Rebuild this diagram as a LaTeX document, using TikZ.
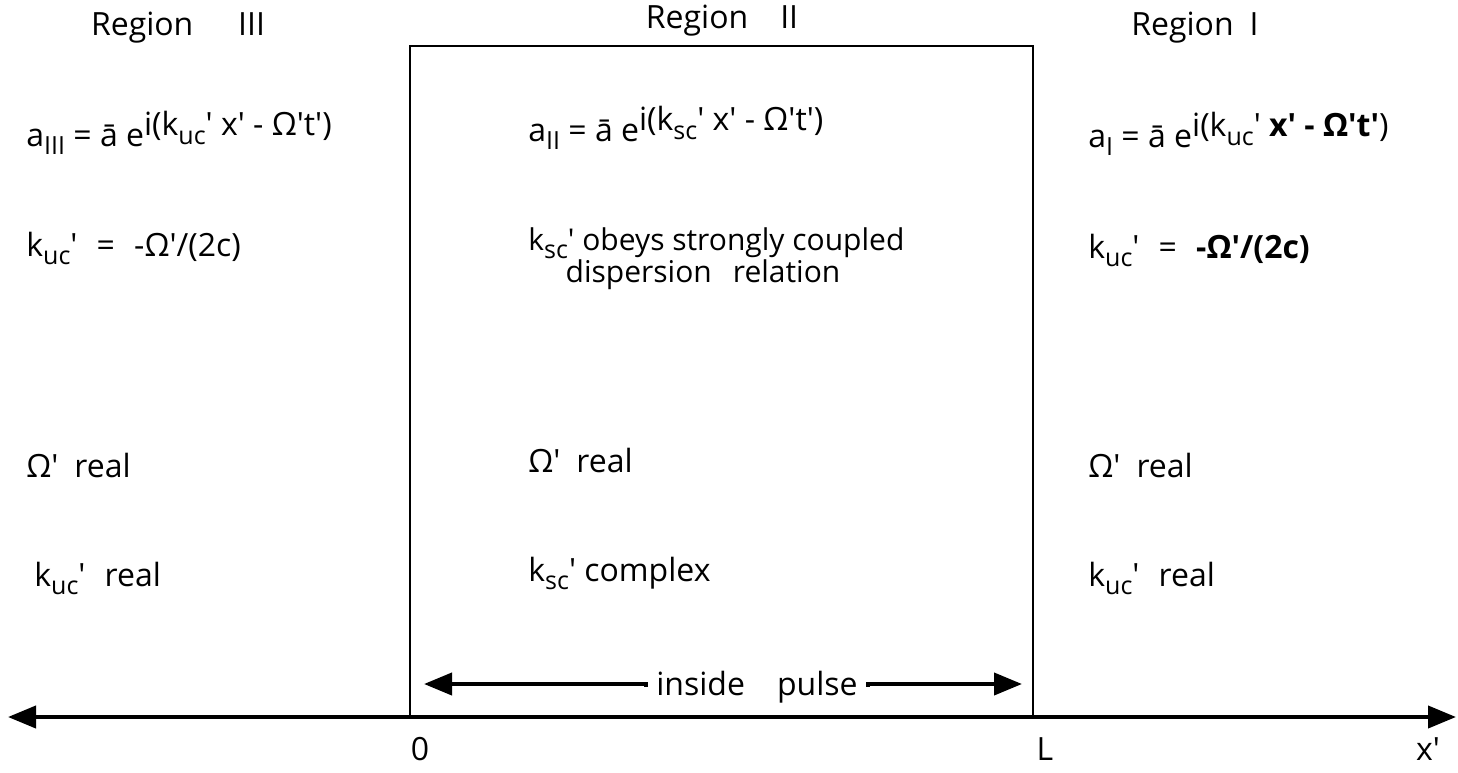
\documentclass[tikz,border=0pt]{standalone}
\usepackage{fontspec}
\setmainfont{Open Sans}
\usetikzlibrary{arrows.meta}
\newcommand{\sbs}[1]{\raisebox{-0.5ex}{\fontsize{12.5}{14}\selectfont #1}}
\newcommand{\pr}{\textquotesingle}
\newcommand{\ex}[1]{\raisebox{0.6ex}{#1}}
\tikzset{
  lbl/.style={font=\fontsize{16}{19}\selectfont, inner sep=0pt, anchor=base west},
  ctr/.style={font=\fontsize{16}{19}\selectfont, inner sep=0pt, anchor=base},
  axisline/.style={line width=2pt, {Triangle[length=14pt,width=11pt]}-{Triangle[length=14pt,width=11pt]}},
  pulsearrow/.style={line width=2pt, -{Triangle[length=14pt,width=11pt]}},
  boxline/.style={line width=1pt}
}
\begin{document}
\begin{tikzpicture}[x=0.5pt,y=-0.5pt]
\useasboundingbox (0,0) rectangle (1458,772);
% axis and box
\coordinate (axL) at (8,717);
\coordinate (axR) at (1456,717);
\coordinate (b0) at (410,717);
\coordinate (bL) at (1033,717);
\coordinate (t0) at (410,46);
\coordinate (tL) at (1033,46);
\draw[axisline] (axL) -- (axR);
\draw[boxline] (b0) -- (t0) -- (tL) -- (bL);
\draw[line width=1.4pt] (t0) -- (tL);
% region headings
\node[ctr] (r3) at (178,35) {Region\hspace{1.4em}III};
\node[ctr] (r2) at (722,28) {Region\quad II};
\node[ctr] (r1) at (1195,35) {Region\hspace{0.5em}I};
% equations
\node[lbl] (e3) at (26,146) {a\sbs{III} = \=a e\ex{i(k\sbs{uc}\pr{} x\pr{} - Ω\pr t\pr)}};
\node[lbl] (e2) at (528,141) {a\sbs{II} = \=a e\ex{i(k\sbs{sc}\pr{} x\pr{} - Ω\pr t\pr)}};
\node[lbl] (e1) at (1088,147) {a\sbs{I} = \=a e\ex{i(k\sbs{uc}\pr{} \textbf{x\pr{} - Ω\pr t\pr})}};
% dispersion
\node[lbl] (d3) at (26,256) {k\sbs{uc}\pr{}\hspace{0.6em}=\hspace{0.6em}-Ω\pr/(2c)};
\node[lbl,font=\fontsize{15}{18}\selectfont] (d2a) at (528,250) {k\sbs{sc}\pr{} obeys strongly coupled};
\node[ctr,font=\fontsize{15}{18}\selectfont] (d2b) at (703,282) {dispersion\hspace{0.7em}relation};
\node[lbl] (d1) at (1088,258) {k\sbs{uc}\pr{}\hspace{0.6em}=\hspace{0.6em}\textbf{-Ω\pr/(2c)}};
% omega real
\node[lbl] (o3) at (26,477) {Ω\pr{}\enspace real};
\node[lbl] (o2) at (528,472) {Ω\pr{}\enspace real};
\node[lbl] (o1) at (1088,477) {Ω\pr{}\enspace real};
% k real / complex
\node[lbl] (k3) at (34,586) {k\sbs{uc}\pr{}\hspace{0.6em}real};
\node[lbl] (k2) at (528,581) {k\sbs{sc}\pr{} complex};
\node[lbl] (k1) at (1088,586) {k\sbs{uc}\pr{}\hspace{0.6em}real};
% inside pulse
\node[ctr] (ip) at (757,695) {inside\quad pulse};
\coordinate (ipL) at (424,684);
\coordinate (ipR) at (1022,684);
\draw[pulsearrow] (ip.west) ++(-10,0) |- (ipL);
\draw[pulsearrow] (ip.east) ++(10,0) |- (ipR);
% axis labels
\node[ctr] (z) at (420,760) {0};
\node[ctr] (l) at (1045,760) {L};
\node[ctr] (x) at (1428,760) {x\pr};
\end{tikzpicture}
\end{document}
